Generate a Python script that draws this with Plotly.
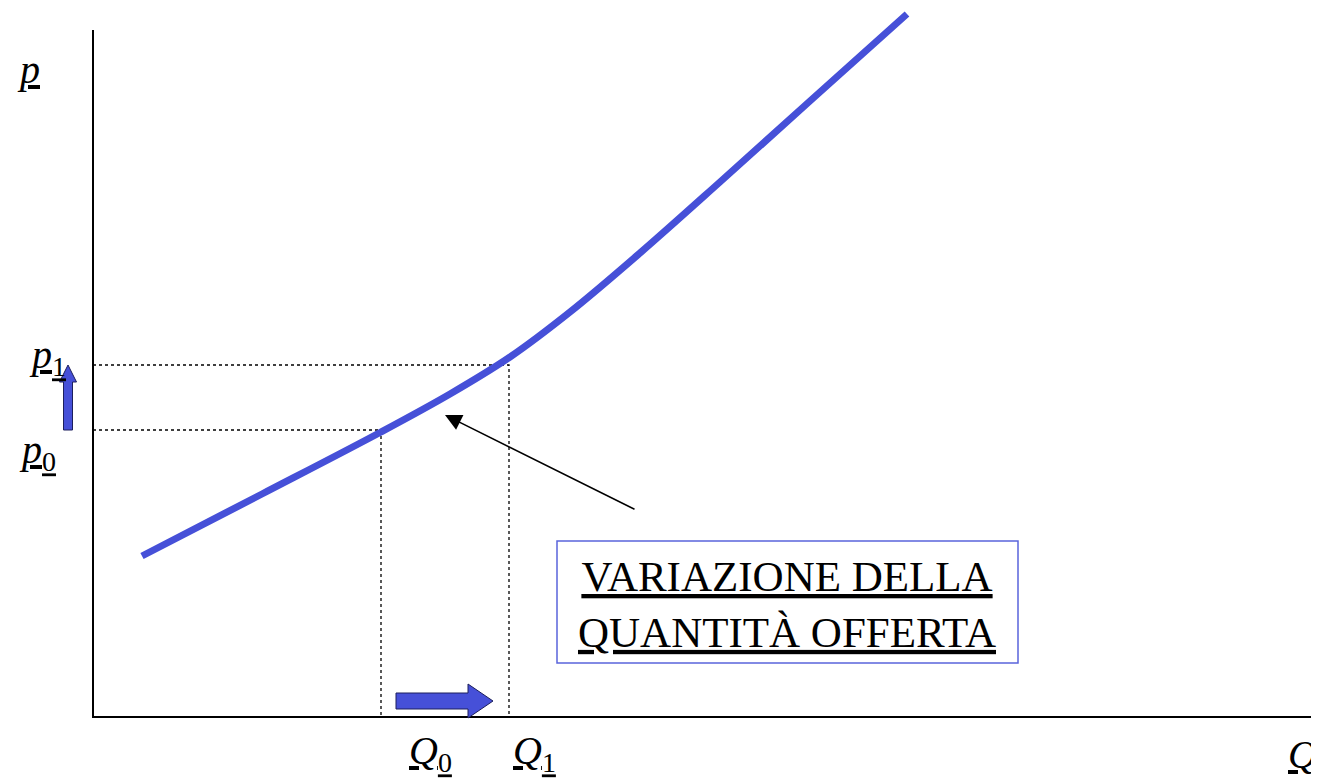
import plotly.graph_objects as go

# --- Data (quantity Q, price p) ---
supply_q = [49, 169, 288, 357, 417, 477, 547, 627, 717, 814]
supply_p = [161, 223, 285, 323, 360, 405, 464, 535, 616, 703]

q0, q1 = 288, 416
p0, p1 = 287, 352

q_max, p_max = 1226, 687

# block arrows showing the change (tail, head-base, tip)
arrow_q_x = [303, 375, 400]
arrow_q_y = 16
arrow_p_x = -25
arrow_p_y = [287, 335, 352]

BLUE = "#4650d8"
SERIF = "Liberation Serif, Times New Roman, serif"

fig = go.Figure()

# axes
fig.add_trace(go.Scatter(x=[0, 0, q_max], y=[p_max, 0, 0], mode="lines",
                         line=dict(color="black", width=2), hoverinfo="skip"))

# dotted guide lines
fig.add_trace(go.Scatter(x=[0, q0, q0], y=[p0, p0, 0], mode="lines",
                         line=dict(color="black", width=1.3, dash="dot"), hoverinfo="skip"))
fig.add_trace(go.Scatter(x=[0, q1, q1], y=[p1, p1, 0], mode="lines",
                         line=dict(color="black", width=1.3, dash="dot"), hoverinfo="skip"))

# supply curve
fig.add_trace(go.Scatter(x=supply_q, y=supply_p, mode="lines",
                         line=dict(color=BLUE, width=7, shape="spline", smoothing=1.0),
                         hoverinfo="skip"))

# block arrow along Q
t, b, tip = arrow_q_x
cy = arrow_q_y
path_q = (f"M {t},{cy-8} L {b},{cy-8} L {b},{cy-17} L {tip},{cy} "
          f"L {b},{cy+17} L {b},{cy+8} L {t},{cy+8} Z")
fig.add_shape(type="path", path=path_q, xref="x", yref="y",
              fillcolor=BLUE, line=dict(color="#1c1f5c", width=1))

# block arrow along p
t, b, tip = arrow_p_y
cx = arrow_p_x
path_p = (f"M {cx-4.5},{t} L {cx-4.5},{b} L {cx-8.5},{b} L {cx},{tip} "
          f"L {cx+8.5},{b} L {cx+4.5},{b} L {cx+4.5},{t} Z")
fig.add_shape(type="path", path=path_p, xref="x", yref="y",
              fillcolor=BLUE, line=dict(color="#1c1f5c", width=1))

# text box
fig.add_shape(type="rect", x0=464, x1=925, y0=54, y1=176, xref="x", yref="y",
              line=dict(color="#5a64dc", width=1.5), fillcolor="white")

fig.add_annotation(x=694, y=113, xref="x", yref="y", showarrow=False,
                   text="<u>VARIAZIONE DELLA</u><br><u>QUANTITÀ OFFERTA</u>",
                   font=dict(family=SERIF, size=43, color="black"), align="center")

# pointer arrow to the curve
fig.add_annotation(x=352, y=302, ax=543, ay=207, xref="x", yref="y",
                   axref="x", ayref="y", text="", showarrow=True,
                   arrowhead=2, arrowsize=2.2, arrowwidth=1.5, arrowcolor="black")

# axis labels
labels = [
    ("<u><i>p</i></u>", -65, 648),
    ("<u><i>p</i><sub>1</sub></u>", -46, 360),
    ("<u><i>p</i><sub>0</sub></u>", -56, 265),
    ("<u><i>Q</i><sub>0</sub></u>", 337, -36),
    ("<u><i>Q</i><sub>1</sub></u>", 441, -36),
    ("<u><i>Q</i></u>", 1209, -37),
]
for txt, x, y in labels:
    fig.add_annotation(x=x, y=y, xref="x", yref="y", text=txt, showarrow=False,
                       font=dict(family=SERIF, size=40, color="black"))

# page has an 8px body margin, so the figure is drawn 8px smaller
fig.update_layout(
    width=1311, height=775,
    margin=dict(l=0, r=0, t=0, b=0),
    plot_bgcolor="white", paper_bgcolor="white",
    showlegend=False,
    xaxis=dict(range=[-85, 1226], visible=False, fixedrange=True),
    yaxis=dict(range=[-66, 709], visible=False, fixedrange=True),
)

fig.write_html("out.html")
